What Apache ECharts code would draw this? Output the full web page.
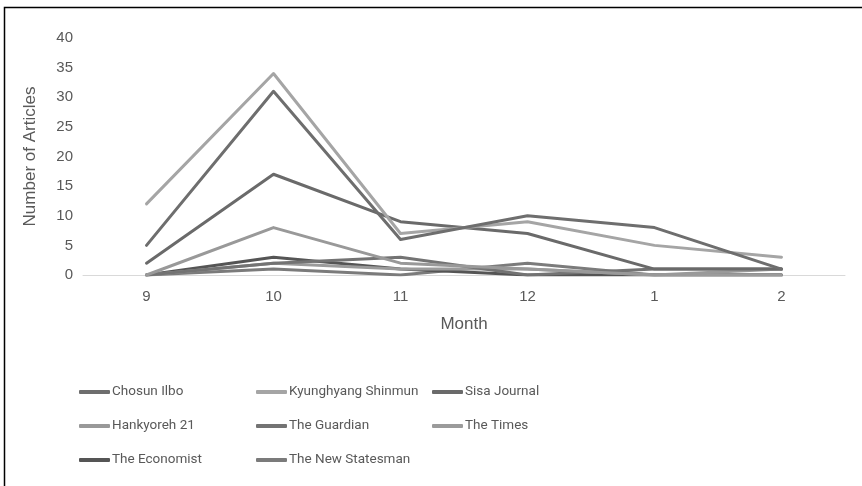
<!DOCTYPE html>
<html>
<head>
<meta charset="utf-8">
<script src="https://cdn.jsdelivr.net/npm/echarts@6/dist/echarts.min.js"></script>
<style>
html,body{margin:0;padding:0;background:#fff;}
#c{width:862px;height:486px;}
</style>
</head>
<body>
<div id="c"></div>
<script>
const months = ['9', '10', '11', '12', '1', '2'];
const seriesNames = ['Chosun Ilbo', 'Kyunghyang Shinmun', 'Sisa Journal', 'Hankyoreh 21', 'The Guardian', 'The Times', 'The Economist', 'The New Statesman'];
const chosunIlbo = [5, 31, 6, 10, 8, 1];
const kyunghyang = [12, 34, 7, 9, 5, 3];
const sisaJournal = [2, 17, 9, 7, 1, 1];
const hankyoreh21 = [0, 8, 2, 1, 0, 1];
const guardian = [0, 2, 3, 0, 1, 1];
const times = [0, 2, 1, 1, 0, 0];
const economist = [0, 3, 1, 0, 0, 0];
const newStatesman = [0, 1, 0, 2, 0, 0];
const yTicks = [0, 5, 10, 15, 20, 25, 30, 35, 40];

const values = [chosunIlbo, kyunghyang, sisaJournal, hankyoreh21, guardian, times, economist, newStatesman];
const colors = ['#6e6e6e', '#a5a5a5', '#6a6a6a', '#999999', '#737373', '#9b9b9b', '#555555', '#7b7b7b'];
const legendPos = [
  [79, 385], [256, 385], [432, 385],
  [79, 419], [256, 419], [432, 419],
  [79, 453], [256, 453]
];

const chart = echarts.init(document.getElementById('c'), null, {renderer: 'canvas'});
const font = "'Liberation Sans', Arial, sans-serif";
const legends = seriesNames.map((n, i) => ({
  data: [n],
  left: legendPos[i][0],
  top: legendPos[i][1],
  icon: 'roundRect',
  itemWidth: 31,
  itemHeight: 4,
  itemGap: 0,
  padding: 0,
  selectedMode: false,
  textStyle: {color: '#595959', fontSize: 13.5, fontFamily: "Roboto, sans-serif", padding: [0, 0, 0, -3]}
}));

chart.setOption({
  animation: false,
  backgroundColor: '#ffffff',
  graphic: [{
    type: 'rect',
    shape: {x: 4.5, y: 7.5, width: 900, height: 600},
    style: {fill: 'none', stroke: '#000000', lineWidth: 1.5},
    silent: true
  }],
  grid: {left: 83, right: 17, top: 38, bottom: 211, containLabel: false},
  legend: legends,
  xAxis: {
    type: 'category',
    data: months,
    boundaryGap: true,
    name: 'Month',
    nameLocation: 'middle',
    nameGap: 41,
    nameTextStyle: {color: '#595959', fontSize: 17, fontFamily: font},
    axisLine: {lineStyle: {color: '#d9d9d9', width: 1}},
    axisTick: {show: false},
    axisLabel: {color: '#595959', fontSize: 15, fontFamily: font, margin: 14}
  },
  yAxis: {
    type: 'value',
    min: 0,
    max: 40,
    interval: 5,
    name: 'Number of Articles',
    nameLocation: 'middle',
    nameGap: 44,
    nameRotate: 90,
    nameTextStyle: {color: '#595959', fontSize: 17, fontFamily: font},
    axisLine: {show: false},
    axisTick: {show: false},
    splitLine: {show: false},
    axisLabel: {
      color: '#595959', fontSize: 15, fontFamily: font, margin: 10,
      formatter: v => yTicks.includes(v) ? String(v) : ''
    }
  },
  series: seriesNames.map((n, i) => ({
    name: n,
    type: 'line',
    data: values[i],
    symbol: 'none',
    showSymbol: false,
    color: colors[i],
    lineStyle: {width: 3, color: colors[i], cap: 'round', join: 'round'},
    z: 10 - i
  }))
});
</script>
</body>
</html>
